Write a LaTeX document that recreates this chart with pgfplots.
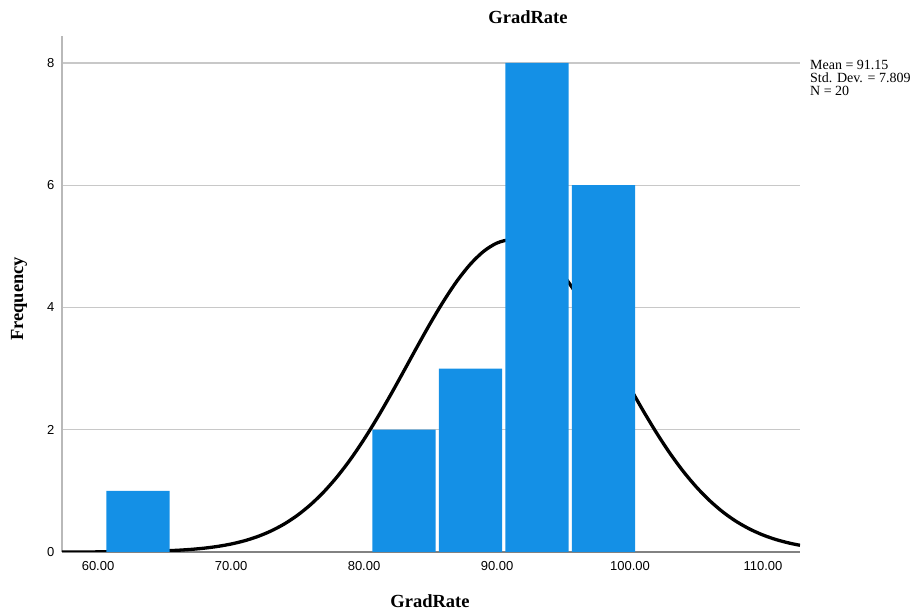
\documentclass[border=0pt]{standalone}
\usepackage{fontspec}
\setmainfont{Liberation Serif}
\newfontfamily\arialfont{Liberation Sans}
\usepackage{pgfplots}
\pgfplotsset{compat=1.18}
\definecolor{barblue}{RGB}{20,144,230}
\definecolor{gridgray}{RGB}{200,200,200}
\definecolor{yaxisgray}{RGB}{185,185,185}
\definecolor{xaxisgray}{RGB}{130,130,130}
\begin{document}
\begin{tikzpicture}
\useasboundingbox (-62pt,-63pt) rectangle (853pt,552pt);
\begin{axis}[
  at={(0pt,0pt)}, anchor=south west,
  scale only axis, width=738pt, height=516pt,
  xmin=57.29, xmax=112.78, ymin=0, ymax=8.44,
  axis x line*=bottom, axis y line*=left,
  x axis line style={-, draw=xaxisgray, line width=1.3pt},
  y axis line style={-, draw=yaxisgray, line width=1.6pt},
  xtick={60,70,80,90,100,110},
  xticklabels={60.00,70.00,80.00,90.00,100.00,110.00},
  ytick={0,2,4,6,8},
  major tick length=0pt,
  ymajorgrids, grid style={draw=gridgray, line width=1.3pt},
  tick label style={font=\arialfont\fontsize{13}{15}\selectfont},
  /pgf/number format/assume math mode=true,
  xticklabel style={yshift=-6pt},
  yticklabel style={xshift=-4pt},
  clip=true,
]
\addplot[black, line width=3.3pt, smooth] coordinates {
(57.29,0.00028) (58,0.00062) (59,0.00107) (60,0.00179) (61,0.00296) (62,0.00482)
(63,0.00771) (64,0.01213) (65,0.01876) (66,0.02857) (67,0.0428) (68,0.0631)
(69,0.0915) (70,0.1304) (71,0.1830) (72,0.2526) (73,0.3430) (74,0.4578)
(75,0.6018) (76,0.778) (77,0.989) (78,1.237) (79,1.522) (80,1.843)
(81,2.195) (82,2.571) (83,2.963) (84,3.360) (85,3.747) (86,4.110)
(87,4.436) (88,4.709) (89,4.919) (90,5.054) (91,5.108) (92,5.079)
(93,4.967) (94,4.780) (95,4.524) (96,4.213) (97,3.859) (98,3.478)
(99,3.083) (100,2.688) (101,2.306) (102,1.946) (103,1.615) (104,1.319)
(105,1.060) (106,0.838) (107,0.651) (108,0.498) (109,0.375) (110,0.2775)
(111,0.2018) (112,0.1446) (112.78,0.110)
};
\addplot[ybar, bar width=4.75, fill=barblue, draw=none] coordinates {
(63,1) (83,2) (88,3) (93,8) (98,6)
};
\end{axis}
\node[font=\bfseries\fontsize{18.5}{20}\selectfont] at (466pt,535pt) {GradRate};
\node[font=\bfseries\fontsize{18.5}{20}\selectfont] at (368pt,-49pt) {GradRate};
\node[font=\bfseries\fontsize{18.5}{20}\selectfont, rotate=90] at (-43pt,253pt) {Frequency};
\node[font=\fontsize{14}{15}\selectfont, anchor=base west, inner sep=0pt] at (748pt,482pt) {Mean = 91.15};
\node[font=\fontsize{14}{15}\selectfont, anchor=base west, inner sep=0pt] at (748pt,469pt) {Std. Dev. = 7.809};
\node[font=\fontsize{14}{15}\selectfont, anchor=base west, inner sep=0pt] at (748pt,456pt) {N = 20};
\end{tikzpicture}
\end{document}
